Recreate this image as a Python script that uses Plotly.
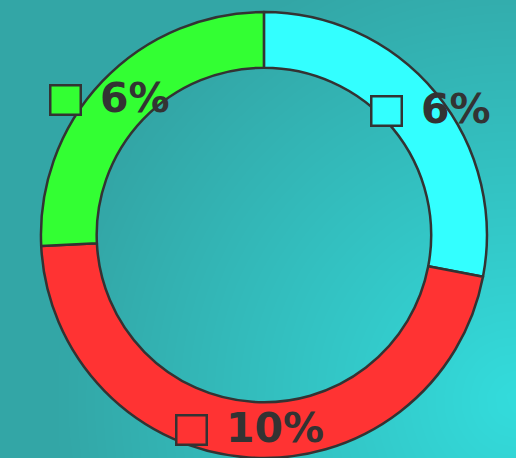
import numpy as np
import plotly.graph_objects as go

# ---- data ----
labels = ["Cyan", "Red", "Green"]
values = [6.3, 10.4, 5.8]
colors = ["#33FFFF", "#FF3333", "#33FF33"]
text_labels = [f"{round(v)}%" for v in values]

W, H = 516, 458
HOLE = 0.75
LINE = "#333333"

# ---- background gradient (style only) ----
gx = np.linspace(0, W, 30)
gy = np.linspace(0, H, 30)
GX, GY = np.meshgrid(gx, gy)
d = np.sqrt((GX - 516) ** 2 + (GY - 400) ** 2)
gz = np.clip(1 - d / 460.0, 0, 1)

fig = go.Figure()
fig.add_trace(go.Heatmap(
    x=gx, y=gy, z=gz, zsmooth="best", showscale=False, hoverinfo="skip",
    colorscale=[[0, "rgb(51,166,166)"], [1, "rgb(51,220,220)"]],
    zmin=0, zmax=1, xaxis="x", yaxis="y",
))

# ---- donut ----
dom_x = [0.023, 1.0]
dom_y = [0.0, 446.0 / H]
fig.add_trace(go.Pie(
    labels=labels, values=values, hole=HOLE, sort=False, direction="clockwise",
    rotation=0, textinfo="none", hoverinfo="label+value",
    marker=dict(colors=colors, line=dict(color=LINE, width=2.5)),
    domain=dict(x=dom_x, y=dom_y), showlegend=False,
))

# ---- labels: square marker + value text at mid of each slice ----
R = min((dom_x[1] - dom_x[0]) * W, (dom_y[1] - dom_y[0]) * H) / 2.0
cx = (dom_x[0] + dom_x[1]) / 2 * W
cy = H - (dom_y[0] + dom_y[1]) / 2 * H
rmid = R * (1 + HOLE) / 2.0
XSTRETCH = 1.1
total = float(sum(values))
FS = 41
def text_width(s):
    return sum(0.696 * FS if ch.isdigit() else 1.002 * FS for ch in s)

annotations = []
cum = 0.0
for v, c, t in zip(values, colors, text_labels):
    theta = 2 * np.pi * (cum + v / 2.0) / total
    cum += v
    px = cx + XSTRETCH * rmid * np.sin(theta)
    py = cy - rmid * np.cos(theta)
    tw = text_width(t)
    SQ, GAP = 32, 16
    tot = SQ + GAP + tw
    left = px - tot / 2.0
    sq_cx = left + SQ / 2.0
    tx_left = left + SQ + GAP
    annotations.append(dict(
        xref="paper", yref="paper", x=sq_cx / W, y=1 - py / H,
        xanchor="center", yanchor="middle", text=" ", showarrow=False,
        width=28, height=27, borderpad=0, borderwidth=2.5,
        bgcolor=c, bordercolor=LINE, font=dict(size=4),
    ))
    annotations.append(dict(
        xref="paper", yref="paper", x=tx_left / W, y=1 - py / H,
        xanchor="left", yanchor="middle", text=f"<b>{t}</b>", showarrow=False,
        yshift=2,
        font=dict(family="DejaVu Sans", size=FS, color=LINE),
    ))

fig.update_layout(
    width=W, height=H, margin=dict(l=0, r=0, t=0, b=0),
    paper_bgcolor="rgb(51,166,166)", plot_bgcolor="rgba(0,0,0,0)",
    xaxis=dict(range=[0, W], visible=False, domain=[0, 1], fixedrange=True),
    yaxis=dict(range=[H, 0], visible=False, domain=[0, 1], fixedrange=True),
    annotations=annotations, showlegend=False,
)

fig.write_html(
    "out.html",
    config={"displayModeBar": False},
    post_script="document.body.style.margin='0';document.body.style.overflow='hidden';",
)
